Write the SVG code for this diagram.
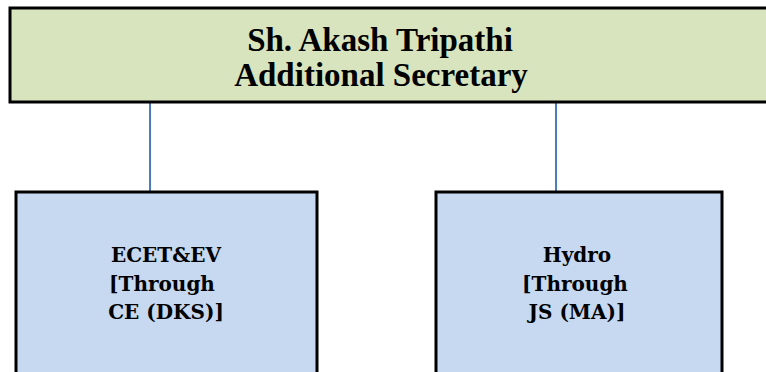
<svg xmlns="http://www.w3.org/2000/svg" width="766" height="372" viewBox="0 0 766 372">
<style>
.box{stroke:#000;stroke-width:3}
.top{fill:#d7e4bd}
.sub{fill:#c6d9f1}
.conn{stroke:#4a7ebb;stroke-width:2;fill:none}
.t1{font-family:"Liberation Serif",serif;font-weight:bold;font-size:33px;fill:#000;text-anchor:middle}
.t2{font-family:"DejaVu Serif",serif;font-weight:bold;font-size:20px;fill:#000;text-anchor:middle}
</style>
<rect width="766" height="372" fill="#fff"/>
<g id="connectors">
<line class="conn" x1="150" y1="103" x2="150" y2="191"/>
<line class="conn" x1="556" y1="103" x2="556" y2="191"/>
</g>
<g id="node-as">
<rect class="box top" x="10" y="8" width="770" height="94"/>
<text class="t1" x="380" y="51">Sh. Akash Tripathi</text>
<text class="t1" x="381" y="86">Additional Secretary</text>
</g>
<g id="node-ecet">
<rect class="box sub" x="16" y="192" width="301" height="200"/>
<text class="t2" x="166" y="262">ECET&amp;EV</text>
<text class="t2" x="162" y="291">[Through</text>
<text class="t2" x="166" y="319">CE (DKS)]</text>
</g>
<g id="node-hydro">
<rect class="box sub" x="436" y="192" width="286" height="200"/>
<text class="t2" x="577" y="262">Hydro</text>
<text class="t2" x="575" y="291">[Through</text>
<text class="t2" x="577" y="319">JS (MA)]</text>
</g>
</svg>
